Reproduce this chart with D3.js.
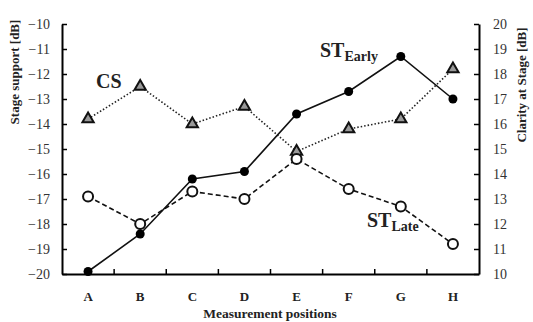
<!DOCTYPE html>
<html>
<head>
<meta charset="utf-8">
<script src="https://cdn.jsdelivr.net/npm/d3@7"></script>
<style>
  body { margin: 0; background: #fff; }
</style>
</head>
<body>
<svg id="chart" width="533" height="322"></svg>
<script>
// data
var positions = ["A", "B", "C", "D", "E", "F", "G", "H"];
var stEarly = [-19.9, -18.4, -16.2, -15.9, -13.6, -12.7, -11.3, -13.0];
var stLate = [-16.9, -18.0, -16.7, -17.0, -15.4, -16.6, -17.3, -18.8];
var cs = [16.2, 17.5, 16.0, 16.7, 14.9, 15.8, 16.2, 18.2];
var leftTicks = [-20, -19, -18, -17, -16, -15, -14, -13, -12, -11, -10];
var rightTicks = [10, 11, 12, 13, 14, 15, 16, 17, 18, 19, 20];

var serif = "'Liberation Serif', 'Times New Roman', 'DejaVu Serif', serif";
var svg = d3.select("#chart");
var plotLeft = 62, plotRight = 479, plotTop = 24, plotBottom = 274;

var x = d3.scaleBand().domain(positions).range([plotLeft, plotRight]);
var yL = d3.scaleLinear().domain([-20, -10]).range([plotBottom, plotTop]);
var yR = d3.scaleLinear().domain([10, 20]).range([plotBottom, plotTop]);
function cx(d, i) { return x(positions[i]) + x.bandwidth() / 2; }

// axes
var gL = svg.append("g").attr("transform", "translate(" + plotLeft + ",0)")
  .call(d3.axisLeft(yL).tickValues(leftTicks).tickSizeInner(-5).tickSizeOuter(0).tickPadding(12));
var gR = svg.append("g").attr("transform", "translate(" + plotRight + ",0)")
  .call(d3.axisRight(yR).tickValues(rightTicks).tickSizeInner(-5).tickSizeOuter(0).tickPadding(14));
var gB = svg.append("g").attr("transform", "translate(0," + plotBottom + ")")
  .call(d3.axisBottom(x).tickSize(0).tickPadding(18));

[gL, gR, gB].forEach(function (g) {
  g.attr("font-family", null).style("font-family", serif);
  g.select(".domain").attr("stroke", "#000").attr("stroke-width", 2);
  g.selectAll(".tick line").attr("stroke", "#000").attr("stroke-width", 1.5);
});
gL.selectAll(".tick text").style("font-family", serif).attr("font-size", 14).attr("fill", "#333");
gR.selectAll(".tick text").style("font-family", serif).attr("font-size", 14).attr("fill", "#333");
gB.selectAll(".tick text").style("font-family", serif).attr("font-size", 13)
  .attr("font-weight", "bold").attr("fill", "#222");

// inner ticks between categories on the bottom axis
svg.append("g").selectAll("line")
  .data(positions.slice(1))
  .enter().append("line")
  .attr("x1", function (d) { return x(d); })
  .attr("x2", function (d) { return x(d); })
  .attr("y1", plotBottom).attr("y2", plotBottom - 5)
  .attr("stroke", "#000").attr("stroke-width", 1.5);

// axis titles
svg.append("text")
  .attr("transform", "translate(19,72)rotate(-90)")
  .style("font-family", serif)
  .attr("text-anchor", "middle").attr("font-size", 13).attr("font-weight", "bold")
  .attr("fill", "#222").text("Stage support [dB]");
svg.append("text")
  .attr("transform", "translate(526,85)rotate(-90)")
  .style("font-family", serif)
  .attr("text-anchor", "middle").attr("font-size", 13).attr("font-weight", "bold")
  .attr("fill", "#222").text("Clarity at Stage [dB]");
svg.append("text")
  .attr("x", 270).attr("y", 318)
  .style("font-family", serif)
  .attr("text-anchor", "middle").attr("font-size", 13.5).attr("font-weight", "bold")
  .attr("fill", "#222").text("Measurement positions");

// lines
var lineL = d3.line().x(cx).y(function (d) { return yL(d); });
var lineR = d3.line().x(cx).y(function (d) { return yR(d); });

svg.append("path").datum(cs).attr("d", lineR)
  .attr("fill", "none").attr("stroke", "#222").attr("stroke-width", 1.6)
  .attr("stroke-dasharray", "1.5,2");
svg.append("path").datum(stLate).attr("d", lineL)
  .attr("fill", "none").attr("stroke", "#111").attr("stroke-width", 1.6)
  .attr("stroke-dasharray", "5,3");
svg.append("path").datum(stEarly).attr("d", lineL)
  .attr("fill", "none").attr("stroke", "#111").attr("stroke-width", 1.6);

// markers
svg.append("g").selectAll("path")
  .data(cs).enter().append("path")
  .attr("d", d3.symbol().type(d3.symbolTriangle).size(55))
  .attr("transform", function (d, i) { return "translate(" + cx(d, i) + "," + yR(d) + ")"; })
  .attr("fill", "#999").attr("stroke", "#111").attr("stroke-width", 2);

svg.append("g").selectAll("circle")
  .data(stLate).enter().append("circle")
  .attr("cx", cx).attr("cy", function (d) { return yL(d); })
  .attr("r", 5).attr("fill", "#fff").attr("stroke", "#111").attr("stroke-width", 2);

svg.append("g").selectAll("circle")
  .data(stEarly).enter().append("circle")
  .attr("cx", cx).attr("cy", function (d) { return yL(d); })
  .attr("r", 4.5).attr("fill", "#000");

// series labels
svg.append("text").attr("x", 96).attr("y", 88).style("font-family", serif)
  .attr("font-size", 20).attr("font-weight", "bold").attr("fill", "#222").text("CS");

var tE = svg.append("text").attr("x", 320).attr("y", 57).style("font-family", serif)
  .attr("font-size", 20).attr("font-weight", "bold").attr("fill", "#222");
tE.append("tspan").text("ST");
tE.append("tspan").attr("font-size", 14).attr("dy", 4).text("Early");

var tL = svg.append("text").attr("x", 367).attr("y", 227).style("font-family", serif)
  .attr("font-size", 20).attr("font-weight", "bold").attr("fill", "#222");
tL.append("tspan").text("ST");
tL.append("tspan").attr("font-size", 14).attr("dy", 4).text("Late");
</script>
</body>
</html>
